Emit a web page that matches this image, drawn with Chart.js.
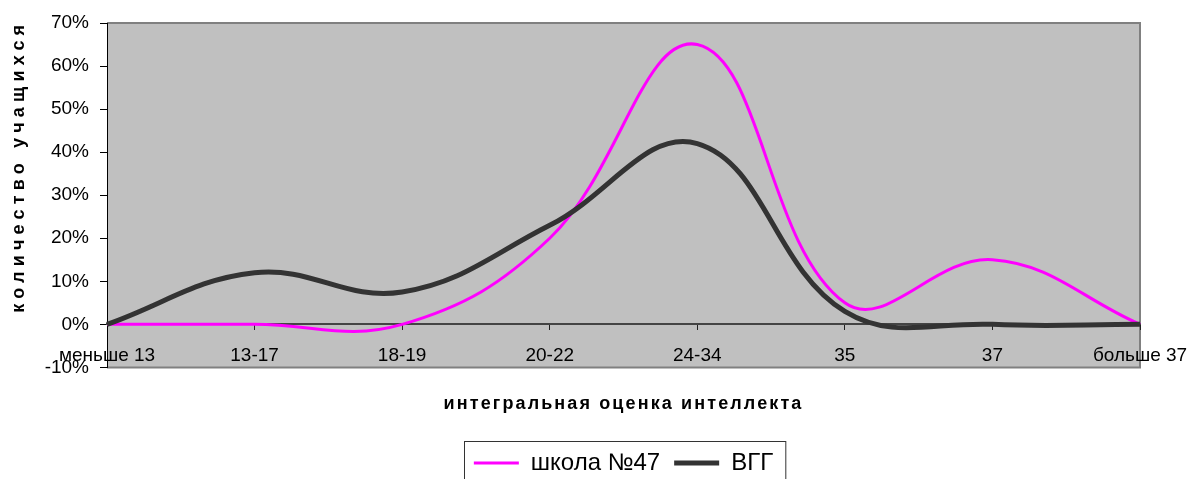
<!DOCTYPE html>
<html>
<head>
<meta charset="utf-8">
<script src="https://cdn.jsdelivr.net/npm/chart.js@4/dist/chart.umd.min.js"></script>
<style>
  html, body { margin: 0; padding: 0; background: #fff; }
</style>
</head>
<body>
<canvas id="chart" width="1194" height="479"></canvas>
<script>
const categories = ["меньше 13", "13-17", "18-19", "20-22", "24-34", "35", "37", "больше 37"];
const school47 = [0, 0, 0, 0.20, 0.65, 0.05, 0.15, 0];
const vgg = [0, 0.12, 0.075, 0.23, 0.42, 0.03, 0, 0];

const FONT = "'Liberation Sans', Arial, sans-serif";

// grey plot area with the thin frame round it
const plotBackground = {
  id: "plotBackground",
  beforeDraw(chart) {
    const { ctx, chartArea: a } = chart;
    ctx.save();
    ctx.fillStyle = "#c0c0c0";
    ctx.fillRect(a.left, a.top, a.right - a.left, a.bottom - a.top);
    ctx.strokeStyle = "#808080";
    ctx.lineWidth = 2;
    ctx.beginPath();
    ctx.moveTo(a.left, a.top);
    ctx.lineTo(a.right, a.top);
    ctx.lineTo(a.right, a.bottom);
    ctx.lineTo(a.left, a.bottom);
    ctx.stroke();
    ctx.restore();
  }
};

// box round the legend items
const legendFrame = {
  id: "legendFrame",
  afterDraw(chart) {
    const boxes = chart.legend && chart.legend.legendHitBoxes;
    if (!boxes || !boxes.length) return;
    const left = Math.min(...boxes.map(b => b.left)) - 10;
    const right = Math.max(...boxes.map(b => b.left + b.width)) + 12;
    const top = Math.min(...boxes.map(b => b.top)) - 10;
    const ctx = chart.ctx;
    ctx.save();
    ctx.strokeStyle = "#333";
    ctx.lineWidth = 1;
    ctx.strokeRect(Math.round(left) + 0.5, Math.round(top) + 0.5, right - left, 80);
    ctx.restore();
  }
};

// axis titles in the original are letter-spaced; stretch them to the same length
function spaceTitle(scale, target, shiftY) {
  if (scale._spaced) return;
  const orig = scale.drawTitle;
  scale.drawTitle = function () {
    const ctx = this.ctx;
    const t = this.options.title;
    ctx.save();
    ctx.font = `bold ${t.font.size}px ${FONT}`;
    const w = ctx.measureText(t.text).width;
    ctx.letterSpacing = ((target - w) / t.text.length).toFixed(2) + "px";
    ctx.translate(0, shiftY);
    orig.call(this);
    ctx.restore();
  };
  scale._spaced = true;
}
const spacedTitles = {
  id: "spacedTitles",
  afterLayout(chart) {
    spaceTitle(chart.scales.x, 360, 0);
    spaceTitle(chart.scales.y, 293, -29);
  }
};

new Chart(document.getElementById("chart"), {
  type: "line",
  data: {
    labels: categories,
    datasets: [
      {
        label: "школа №47",
        data: school47,
        borderColor: "#ff00ff",
        backgroundColor: "#ff00ff",
        borderWidth: 3,
        order: 1
      },
      {
        label: "ВГГ",
        data: vgg,
        borderColor: "#333333",
        backgroundColor: "#333333",
        borderWidth: 5,
        order: 0
      }
    ]
  },
  options: {
    responsive: false,
    animation: false,
    devicePixelRatio: 1,
    layout: { padding: { left: 0, right: 54, top: 23, bottom: -6 } },
    elements: {
      point: { radius: 0 },
      line: { tension: 0.4, fill: false }
    },
    scales: {
      x: {
        type: "category",
        position: "bottom",
        offset: false,
        grid: { display: false, drawTicks: false },
        border: { display: false },
        ticks: { display: false },
        title: {
          display: true,
          text: "интегральная оценка интеллекта",
          color: "#000",
          font: { family: FONT, size: 18, weight: "bold" },
          padding: { top: 26, bottom: 22 }
        }
      },
      x2: {
        type: "category",
        axis: "x",
        position: { y: 0 },
        offset: false,
        afterFit(scale) { scale.paddingLeft = 0; scale.paddingRight = 0; },
        grid: { drawOnChartArea: false, color: "#222", tickLength: 5, lineWidth: 1 },
        border: { color: "#444", width: 2 },
        ticks: {
          color: "#000",
          font: { family: FONT, size: 19 },
          padding: 15,
          autoSkip: false,
          maxRotation: 0
        }
      },
      y: {
        min: -0.1,
        max: 0.7,
        afterFit(scale) { scale.width = 107; },
        grid: { drawOnChartArea: false, color: "#000", tickLength: 7 },
        border: { color: "#000", width: 1 },
        ticks: {
          stepSize: 0.1,
          color: "#000",
          padding: 11,
          font: { family: FONT, size: 19 },
          callback: v => Math.round(v * 100) + "%"
        },
        title: {
          display: true,
          text: "количество учащихся",
          color: "#000",
          font: { family: FONT, size: 18, weight: "bold" },
          padding: { top: 8, bottom: 0 }
        }
      }
    },
    plugins: {
      title: { display: false },
      tooltip: { enabled: false },
      legend: {
        position: "bottom",
        fullSize: false,
        labels: {
          color: "#000",
          font: { family: FONT, size: 24 },
          usePointStyle: true,
          pointStyle: "line",
          pointStyleWidth: 45,
          boxHeight: 24,
          padding: 14,
          sort: (a, b) => a.datasetIndex - b.datasetIndex
        }
      }
    }
  },
  plugins: [plotBackground, legendFrame, spacedTitles]
});
</script>
</body>
</html>
